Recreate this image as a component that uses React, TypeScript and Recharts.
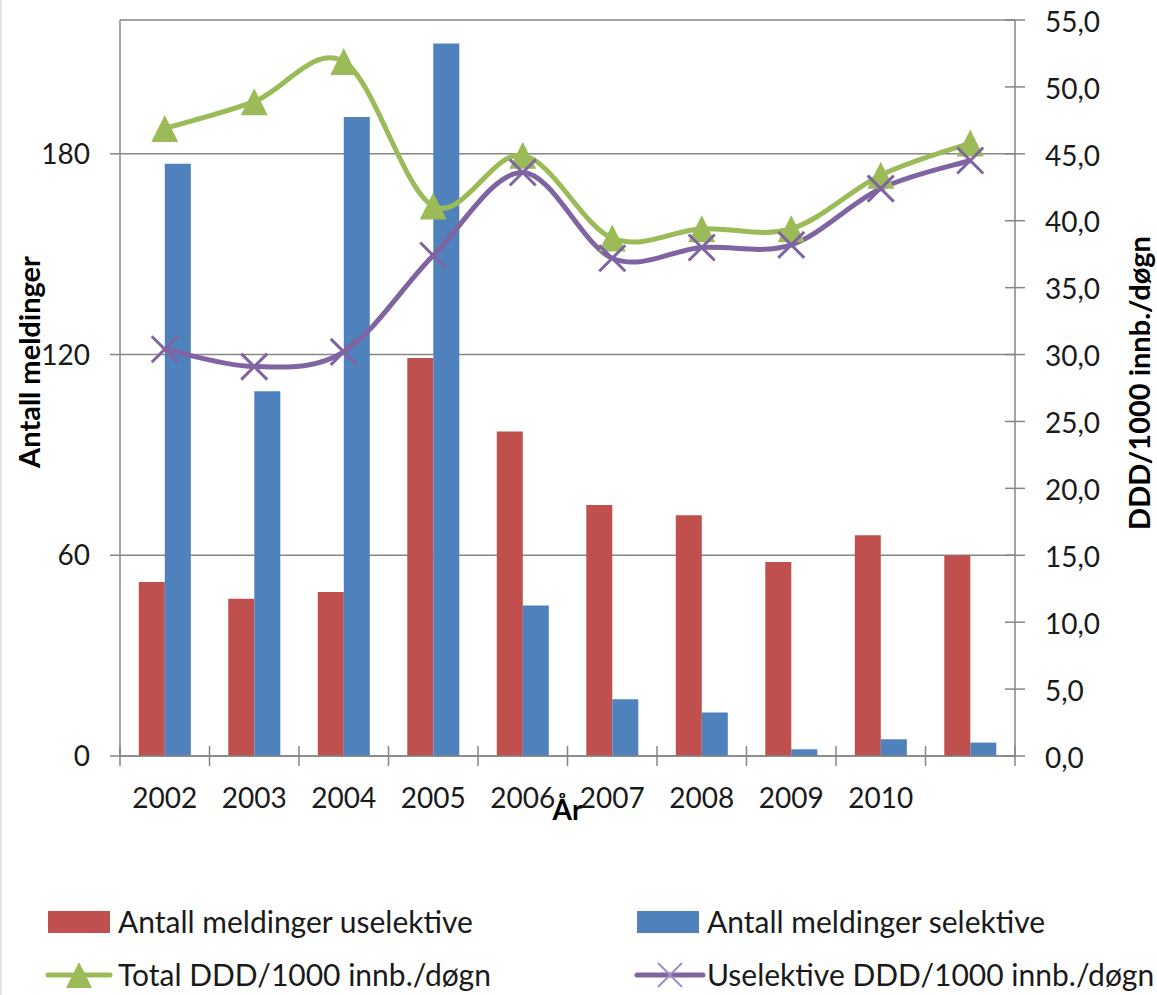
import React from 'react';
import { ComposedChart, Bar, Line, XAxis, YAxis, CartesianGrid, Legend } from 'recharts';

const years = ['2002', '2003', '2004', '2005', '2006', '2007', '2008', '2009', '2010', ''];
const uselektiveMeldinger = [52, 47, 49, 119, 97, 75, 72, 58, 66, 60];
const selektiveMeldinger = [177, 109, 191, 213, 45, 17, 13, 2, 5, 4];
const totalDDD = [46.9, 48.9, 51.9, 41.1, 44.9, 38.7, 39.4, 39.4, 43.4, 45.8];
const uselektiveDDD = [30.4, 29.1, 30.2, 37.4, 43.6, 37.2, 38.0, 38.2, 42.4, 44.5];

const leftTicks = [0, 60, 120, 180];
const rightTicks = [0, 5, 10, 15, 20, 25, 30, 35, 40, 45, 50, 55];

const RED = '#C0504D';
const BLUE = '#4F81BD';
const GREEN = '#9BBB59';
const PURPLE = '#8064A2';
const AXIS = '#868686';
const FONT = 'Lato, "Noto Sans", sans-serif';

const data = years.map((y, i) => ({
  year: y,
  uselektive: uselektiveMeldinger[i],
  selektive: selektiveMeldinger[i],
  total: totalDDD[i],
  useDDD: uselektiveDDD[i],
}));

// Excel-like smooth line (Catmull-Rom style Bezier)
function excelCurve(context: any) {
  let pts: [number, number][] = [];
  return {
    areaStart() {},
    areaEnd() {},
    lineStart() {
      pts = [];
    },
    lineEnd() {
      if (!pts.length) return;
      context.moveTo(pts[0][0], pts[0][1]);
      for (let i = 0; i < pts.length - 1; i++) {
        const p0 = pts[i - 1] || pts[i];
        const p1 = pts[i];
        const p2 = pts[i + 1];
        const p3 = pts[i + 2] || pts[i + 1];
        const c1x = p1[0] + (p2[0] - p0[0]) / 6;
        const c1y = p1[1] + (p2[1] - p0[1]) / 6;
        const c2x = p2[0] - (p3[0] - p1[0]) / 6;
        const c2y = p2[1] - (p3[1] - p1[1]) / 6;
        context.bezierCurveTo(c1x, c1y, c2x, c2y, p2[0], p2[1]);
      }
    },
    point(x: number, y: number) {
      pts.push([+x, +y]);
    },
  };
}

const TriangleDot = (props: any) => {
  const { cx, cy, index } = props;
  if (cx == null || cy == null) return <g key={`t${index}`} />;
  const h = 13.5;
  return (
    <polygon
      key={`t${index}`}
      points={`${cx},${cy - h} ${cx + h},${cy + h} ${cx - h},${cy + h}`}
      fill={GREEN}
    />
  );
};

const CrossDot = (props: any) => {
  const { cx, cy, index } = props;
  if (cx == null || cy == null) return <g key={`x${index}`} />;
  const h = 13;
  return (
    <g key={`x${index}`} stroke={PURPLE} strokeWidth={3}>
      <line x1={cx - h} y1={cy - h} x2={cx + h} y2={cy + h} />
      <line x1={cx - h} y1={cy + h} x2={cx + h} y2={cy - h} />
    </g>
  );
};

const X_MARGIN = 32;
const XTick = (props: any) => {
  const { x, y, payload, index, visibleTicksCount } = props;
  const half = payload && typeof payload.offset === 'number' && payload.offset > 0 ? payload.offset : 44.75;
  const axisY = y - X_MARGIN;
  const isLast = index === (visibleTicksCount ?? years.length) - 1;
  return (
    <g>
      <line x1={x - half} x2={x - half} y1={axisY - 10} y2={axisY + 10} stroke={AXIS} strokeWidth={1.5} />
      {isLast && <line x1={x + half} x2={x + half} y1={axisY - 10} y2={axisY + 10} stroke={AXIS} strokeWidth={1.5} />}
      <text x={x} y={y} dy="0.71em" textAnchor="middle" fontSize={28} fill="#1a1a1a" fontFamily={FONT}>
        {payload.value}
      </text>
    </g>
  );
};

const Y_MARGIN = 30;
const LeftTick = (props: any) => {
  const { x, y, payload } = props;
  const axisX = x + Y_MARGIN;
  return (
    <g>
      <line x1={axisX - 10} x2={axisX} y1={y} y2={y} stroke={AXIS} strokeWidth={1.5} />
      <text x={x} y={y} dy="0.36em" textAnchor="end" fontSize={28} fill="#1a1a1a" fontFamily={FONT}>
        {payload.value}
      </text>
    </g>
  );
};

const RightTick = (props: any) => {
  const { x, y, payload } = props;
  const axisX = x - Y_MARGIN;
  return (
    <g>
      <line x1={axisX - 10} x2={axisX + 10} y1={y} y2={y} stroke={AXIS} strokeWidth={1.5} />
      <text x={x} y={y} dy="0.42em" textAnchor="start" fontSize={28} fill="#1a1a1a" fontFamily={FONT}>
        {Number(payload.value).toFixed(1).replace('.', ',')}
      </text>
    </g>
  );
};

const legendItems = [
  { name: 'Antall meldinger uselektive', color: RED, kind: 'rect' },
  { name: 'Antall meldinger selektive', color: BLUE, kind: 'rect' },
  { name: 'Total DDD/1000 innb./døgn', color: GREEN, kind: 'tri' },
  { name: 'Uselektive DDD/1000 innb./døgn', color: PURPLE, kind: 'cross' },
];

const renderLegend = () => {
  const colX = [48, 637];
  const rowY = [42, 95];
  return (
    <svg width={1157} height={115} style={{ display: 'block' }}>
      {legendItems.map((it, i) => {
        const x = colX[i % 2];
        const y = rowY[Math.floor(i / 2)];
        const mid = x + 31;
        return (
          <g key={it.name}>
            {it.kind === 'rect' && <rect x={x} y={y - 11} width={62} height={22} fill={it.color} />}
            {it.kind === 'tri' && (
              <g>
                <line x1={x} x2={x + 62} y1={y} y2={y} stroke={it.color} strokeWidth={5} strokeLinecap="round" />
                <polygon points={`${mid},${y - 13} ${mid + 13},${y + 13} ${mid - 13},${y + 13}`} fill={it.color} />
              </g>
            )}
            {it.kind === 'cross' && (
              <g>
                <line x1={x} x2={x + 66} y1={y} y2={y} stroke={it.color} strokeWidth={5} strokeLinecap="round" />
                <g stroke="#A08CC0" strokeWidth={2}>
                  <line x1={mid + 2 - 12} y1={y - 12} x2={mid + 2 + 12} y2={y + 12} />
                  <line x1={mid + 2 - 12} y1={y + 12} x2={mid + 2 + 12} y2={y - 12} />
                </g>
              </g>
            )}
            <text x={x + 70} y={y} dy="0.36em" fontSize={30} fill="#1a1a1a" fontFamily={FONT}>
              {it.name}
            </text>
          </g>
        );
      })}
    </svg>
  );
};

export default function App() {
  return (
    <div style={{ position: 'absolute', left: 0, top: 0, width: 1157, height: 995, background: '#fff', fontFamily: FONT }}>
      <div style={{ position: 'absolute', left: 0, top: 0, width: 2, height: 995, background: '#e3e3e3' }} />
      <ComposedChart
        width={1157}
        height={995}
        data={data}
        margin={{ top: 20, right: 0, bottom: 139, left: 0 }}
        barCategoryGap="21%"
        barGap={0}
      >
        <CartesianGrid yAxisId="left" vertical={false} stroke={AXIS} strokeWidth={1.5} />
        <XAxis
          dataKey="year"
          height={100}
          interval={0}
          axisLine={{ stroke: AXIS, strokeWidth: 1.5 }}
          tickLine={false}
          tickSize={0}
          tickMargin={X_MARGIN}
          tick={<XTick />}
          label={{ value: 'År', position: 'center', dy: 4, style: { fontWeight: 700, fontSize: 28, fill: '#000', fontFamily: FONT } }}
        />
        <YAxis
          yAxisId="left"
          orientation="left"
          width={120}
          domain={[0, 220]}
          ticks={leftTicks}
          interval={0}
          axisLine={{ stroke: AXIS, strokeWidth: 1.5 }}
          tickLine={false}
          tickSize={0}
          tickMargin={Y_MARGIN}
          tick={<LeftTick />}
          label={{ value: 'Antall meldinger', angle: -90, position: 'center', dx: -30, dy: -26, style: { fontWeight: 700, fontSize: 29, fill: '#000', fontFamily: FONT } }}
        />
        <YAxis
          yAxisId="right"
          orientation="right"
          width={142}
          domain={[0, 55]}
          ticks={rightTicks}
          interval={0}
          axisLine={{ stroke: AXIS, strokeWidth: 1.5 }}
          tickLine={false}
          tickSize={0}
          tickMargin={Y_MARGIN}
          tick={<RightTick />}
          label={{ value: 'DDD/1000 innb./døgn', angle: -90, position: 'center', dx: 54, dy: -5, style: { fontWeight: 700, fontSize: 29, fill: '#000', fontFamily: FONT } }}
        />
        <Bar yAxisId="left" dataKey="uselektive" name="Antall meldinger uselektive" fill={RED} isAnimationActive={false} />
        <Bar yAxisId="left" dataKey="selektive" name="Antall meldinger selektive" fill={BLUE} isAnimationActive={false} />
        <Line
          yAxisId="right"
          dataKey="total"
          name="Total DDD/1000 innb./døgn"
          type={excelCurve as any}
          stroke={GREEN}
          strokeWidth={5}
          dot={TriangleDot}
          activeDot={false}
          isAnimationActive={false}
        />
        <Line
          yAxisId="right"
          dataKey="useDDD"
          name="Uselektive DDD/1000 innb./døgn"
          type={excelCurve as any}
          stroke={PURPLE}
          strokeWidth={5}
          dot={CrossDot}
          activeDot={false}
          isAnimationActive={false}
        />
        <Legend
          layout="horizontal"
          verticalAlign="middle"
          align="center"
          wrapperStyle={{ position: 'absolute', top: 880, left: 0, width: 1157, height: 115 }}
          content={renderLegend}
        />
      </ComposedChart>
    </div>
  );
}
